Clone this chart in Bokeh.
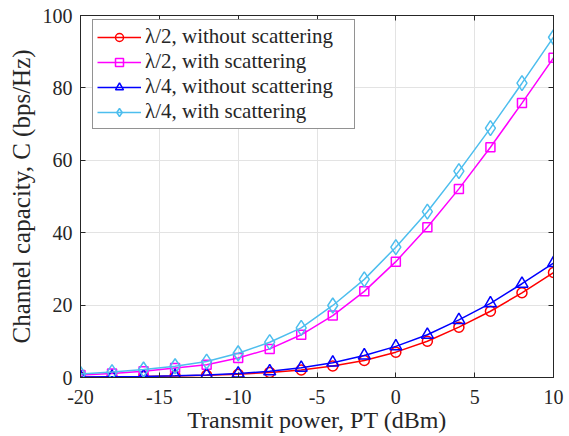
from bokeh.plotting import figure
from bokeh.models import LinearAxis, Legend, LegendItem, FixedTicker, Range1d
from bokeh.embed import file_html
from bokeh.resources import INLINE

# Data
power_dbm = [-20, -18, -16, -14, -12, -10, -8, -6, -4, -2, 0, 2, 4, 6, 8, 10]
half_without = [0.1, 0.15, 0.25, 0.4, 0.6, 0.9, 1.4, 2.1, 3.2, 4.7, 7.0, 10.0, 13.9, 18.3, 23.4, 29.0]
half_with = [0.7, 1.1, 1.7, 2.6, 3.5, 5.4, 7.9, 11.8, 17.1, 23.8, 32.0, 41.5, 52.1, 63.6, 75.8, 88.3]
quarter_without = [0.12, 0.2, 0.3, 0.45, 0.7, 1.1, 1.7, 2.7, 4.1, 6.1, 8.6, 11.8, 15.9, 20.5, 25.9, 31.6]
quarter_with = [1.0, 1.5, 2.2, 3.1, 4.4, 6.7, 9.75, 13.7, 19.9, 27.1, 36.0, 45.8, 57.0, 68.9, 81.3, 94.0]

series_labels = ["λ/2, without scattering", "λ/2, with scattering",
                 "λ/4, without scattering", "λ/4, with scattering"]
x_ticks = [-20, -15, -10, -5, 0, 5, 10]
x_tick_labels = ["-20", "-15", "-10", "-5", "0", "5", "10"]
y_ticks = [0, 20, 40, 60, 80, 100]

FONT = "Liberation Serif"
AX = "#262626"

p = figure(width=569, height=436, output_backend="svg", toolbar_location=None,
           x_range=Range1d(-20, 10), y_range=Range1d(0, 100),
           min_border_left=80, min_border_right=16, min_border_top=15, min_border_bottom=59,
           background_fill_color="white", border_fill_color="white")

p.outline_line_color = AX
p.xgrid.grid_line_color = "#e3e3e3"
p.ygrid.grid_line_color = "#e3e3e3"

for ax in (p.xaxis[0], p.yaxis[0]):
    ax.major_tick_in = 5
    ax.major_tick_out = 0
    ax.minor_tick_line_color = None
    ax.axis_line_color = AX
    ax.major_tick_line_color = AX
    ax.major_label_text_font = FONT
    ax.major_label_text_font_size = "20px"
    ax.major_label_text_color = AX
    ax.axis_label_text_font = FONT
    ax.axis_label_text_font_style = "normal"
    ax.axis_label_text_color = AX

p.xaxis.axis_label_text_font_size = "24px"
p.yaxis.axis_label_text_font_size = "25px"
p.xaxis.ticker = FixedTicker(ticks=x_ticks)
p.xaxis.major_label_overrides = {t: s for t, s in zip(x_ticks, x_tick_labels)}
p.yaxis.ticker = FixedTicker(ticks=y_ticks)
p.xaxis.axis_label = "Transmit power, PT (dBm)"
p.yaxis.axis_label = "Channel capacity, C (bps/Hz)"
p.xaxis.major_label_standoff = 12
p.xaxis.axis_label_standoff = 0
p.yaxis.major_label_standoff = 8
p.yaxis.axis_label_standoff = 5

for loc, ticks in (("right", y_ticks), ("above", x_ticks)):
    a = LinearAxis(ticker=FixedTicker(ticks=ticks), major_label_text_font_size="1px",
                   major_label_text_color=None,
                   major_tick_in=5, major_tick_out=0, minor_tick_line_color=None,
                   axis_line_color=AX, major_tick_line_color=AX, major_label_standoff=0)
    p.add_layout(a, loc)

styles = [
    (half_without, "#ff0000", "circle", 10),
    (half_with, "#ff00ff", "square", 9),
    (quarter_without, "#0000ff", "triangle", 12),
    (quarter_with, "#4dbeee", "diamond", 15),
]

items = []
for (vals, color, marker, size), label in zip(styles, series_labels):
    lr = p.line(power_dbm, vals, line_color=color, line_width=1.5)
    sr = p.scatter(power_dbm, vals, marker=marker, size=size, line_color=color,
                   fill_color=None, line_width=1.5)
    items.append(LegendItem(label=label, renderers=[lr, sr]))

legend = Legend(items=items, location=(12, 248),
                label_text_font=FONT, label_text_font_size="21px", label_text_color=AX,
                glyph_width=44, glyph_height=20, label_height=20, label_width=205,
                label_standoff=4, spacing=0, padding=4,
                border_line_color=AX, border_line_width=1,
                background_fill_color="white", background_fill_alpha=1.0)
p.add_layout(legend)

open("out.html", "w").write(file_html(p, INLINE))
